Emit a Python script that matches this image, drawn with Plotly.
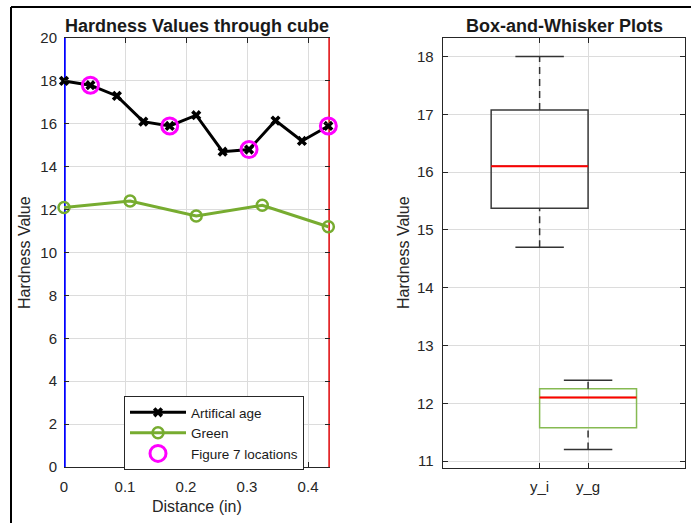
import numpy as np
import plotly.graph_objects as go

# ---------------- data ----------------
distance_i = [0.0, 0.0433, 0.0867, 0.13, 0.1733, 0.2167, 0.26, 0.3033, 0.3467, 0.39, 0.4333]
y_i = [18.0, 17.8, 17.3, 16.1, 15.9, 16.4, 14.7, 14.8, 16.15, 15.2, 15.9]

distance_g = [0.0, 0.1083, 0.2167, 0.325, 0.4333]
y_g = [12.1, 12.4, 11.7, 12.2, 11.2]

fig7_distance = [0.0433, 0.1733, 0.3033, 0.4333]
fig7_values = [17.8, 15.9, 14.8, 15.9]

cube_edges = [0.0, 0.436]          # blue start line, red end line
left_yticks = [0, 2, 4, 6, 8, 10, 12, 14, 16, 18, 20]
left_xticks = [0, 0.1, 0.2, 0.3, 0.4]
box_labels = ["y_i", "y_g"]
box_positions = [1, 2]
right_yticks = [11, 12, 13, 14, 15, 16, 17, 18]

# ---------------- style ----------------
W, H = 691, 523
FONT = "Liberation Sans, Arial, Helvetica, sans-serif"
TXT = "#262626"
GRID = "#DCDCDC"
GREEN = "#77AC30"


def px(x):
    return x / W


def py(y):
    return 1 - y / H


fig = go.Figure()

# vertical marker lines (under the data); half of the width is clipped at the axes edge
fig.add_trace(go.Scatter(x=[cube_edges[0]] * 2, y=[left_yticks[0], left_yticks[-1]], mode="lines",
                         line=dict(color="#0000FF", width=3.5), showlegend=False,
                         hoverinfo="skip", xaxis="x", yaxis="y"))
fig.add_trace(go.Scatter(x=[cube_edges[1]] * 2, y=[left_yticks[0], left_yticks[-1]], mode="lines",
                         line=dict(color="#E3272A", width=3.5), showlegend=False,
                         hoverinfo="skip", xaxis="x", yaxis="y"))

fig.add_trace(go.Scatter(x=distance_i, y=y_i, mode="lines+markers", name="Artifical age",
                         line=dict(color="black", width=3),
                         marker=dict(symbol="x", size=9, color="black"),
                         cliponaxis=False, xaxis="x", yaxis="y"))
fig.add_trace(go.Scatter(x=distance_g, y=y_g, mode="lines+markers", name="Green",
                         line=dict(color=GREEN, width=3),
                         marker=dict(symbol="circle-open", size=11, color=GREEN, line=dict(width=2.5)),
                         cliponaxis=False, xaxis="x", yaxis="y"))
fig.add_trace(go.Scatter(x=fig7_distance, y=fig7_values, mode="markers", name="Figure 7 locations",
                         marker=dict(symbol="circle-open", size=16, color="#FF00FF", line=dict(width=3)),
                         cliponaxis=False, xaxis="x", yaxis="y"))


# ---------------- box plots (MATLAB style) ----------------
def box_stats(vals):
    a = np.asarray(vals, dtype=float)
    q1, med, q3 = np.percentile(a, [25, 50, 75], method="hazen")
    iqr = q3 - q1
    lo = a[a >= q1 - 1.5 * iqr].min()
    hi = a[a <= q3 + 1.5 * iqr].max()
    return q1, med, q3, lo, hi


box_width = 2.0
for pos, vals, col in [(box_positions[0], y_i, "#3A3A3A"), (box_positions[1], y_g, "#86BA52")]:
    q1, med, q3, lo, hi = box_stats(vals)
    fig.add_trace(go.Box(x=[pos], q1=[q1], median=[med], q3=[q3], lowerfence=[q1], upperfence=[q3],
                         width=box_width, whiskerwidth=0, line=dict(color=col, width=1.5),
                         fillcolor="rgba(0,0,0,0)", showlegend=False, xaxis="x2", yaxis="y2"))
    # whiskers (dashed)
    for a, b in [(q3, hi), (lo, q1)]:
        fig.add_trace(go.Scatter(x=[pos, pos], y=[a, b], mode="lines",
                                 line=dict(color="#333333", width=1.5, dash="7px,5px"),
                                 showlegend=False, hoverinfo="skip", xaxis="x2", yaxis="y2"))
    # caps
    for v in [lo, hi]:
        fig.add_trace(go.Scatter(x=[pos - box_width / 4, pos + box_width / 4], y=[v, v], mode="lines",
                                 line=dict(color="#333333", width=1.5),
                                 showlegend=False, hoverinfo="skip", xaxis="x2", yaxis="y2"))
    # median
    fig.add_trace(go.Scatter(x=[pos - box_width / 2, pos + box_width / 2], y=[med, med], mode="lines",
                             line=dict(color="#FF0000", width=2),
                             showlegend=False, hoverinfo="skip", xaxis="x2", yaxis="y2"))

axis_common = dict(ticks="inside", ticklen=5, tickcolor=TXT, tickwidth=1,
                   tickfont=dict(family=FONT, size=15, color=TXT),
                   showgrid=True, gridcolor=GRID, gridwidth=1, zeroline=False)

fig.update_layout(
    width=W, height=H,
    margin=dict(l=0, r=0, t=0, b=0, pad=0, autoexpand=False),
    paper_bgcolor="white", plot_bgcolor="white",
    font=dict(family=FONT, color=TXT),
    showlegend=True,
    legend=dict(x=px(124), y=py(396), xanchor="left", yanchor="top",
                bgcolor="white", bordercolor="#262626", borderwidth=1,
                font=dict(family=FONT, size=13.5, color="#1a1a1a"),
                itemwidth=56, tracegroupgap=0, entrywidth=142, entrywidthmode="pixels"),
    xaxis=dict(domain=[px(64), px(330)], range=[cube_edges[0], cube_edges[1]],
               tickvals=left_xticks, ticktext=["0", "0.1", "0.2", "0.3", "0.4"],
               showline=True, mirror="ticks", linecolor=TXT, linewidth=1,
               ticklabelstandoff=6, anchor="y", **axis_common),
    yaxis=dict(domain=[py(467), py(38)], range=[left_yticks[0], left_yticks[-1]],
               tickvals=left_yticks, showline=False, mirror="ticks",
               ticklabelstandoff=6, anchor="x", **axis_common),
    xaxis2=dict(domain=[px(442.7), px(685)], range=[-1, 4],
                tickvals=box_positions, ticktext=box_labels,
                showline=True, mirror="ticks", linecolor=TXT, linewidth=1,
                ticklabelstandoff=5, anchor="y2", **axis_common),
    yaxis2=dict(domain=[py(468), py(38)], range=[10.88, 18.32],
                tickvals=right_yticks, showline=True, mirror="ticks", linecolor=TXT, linewidth=1,
                ticklabelstandoff=5, anchor="x2", **axis_common),
    boxmode="overlay",
)

annots = [
    dict(text="<b>Hardness Values through cube</b>", x=px(197), y=py(26), size=18),
    dict(text="<b>Box-and-Whisker Plots</b>", x=px(564), y=py(26), size=18),
    dict(text="Distance (in)", x=px(197), y=py(506), size=16),
    dict(text="Hardness Value", x=px(25), y=py(253), size=16, angle=-90),
    dict(text="Hardness Value", x=px(404), y=py(253), size=16, angle=-90),
]
for a in annots:
    fig.add_annotation(text=a["text"], x=a["x"], y=a["y"], xref="paper", yref="paper",
                       xanchor="center", yanchor="middle", showarrow=False,
                       textangle=a.get("angle", 0),
                       font=dict(family=FONT, size=a["size"], color="#1a1a1a" if "<b>" in a["text"] else TXT))

# figure frame (top and left edges visible in the reference)
fig.add_shape(type="line", xref="paper", yref="paper", x0=px(11), x1=1, y0=py(7), y1=py(7),
              line=dict(color="black", width=2))
fig.add_shape(type="line", xref="paper", yref="paper", x0=px(11), x1=px(11), y0=0, y1=py(7),
              line=dict(color="black", width=2))

fig.write_html("out.html", config={"displayModeBar": False},
               post_script="document.body.style.margin='0';document.body.style.padding='0';")
